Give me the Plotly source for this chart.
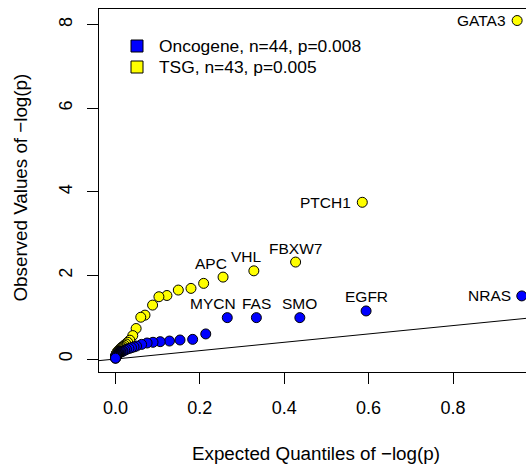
import plotly.graph_objects as go

# ---------------- data ----------------
onc_name = "Oncogene, n=44, p=0.008"
tsg_name = "TSG, n=43, p=0.005"

onc_expected = [0.963, 0.594, 0.437, 0.334, 0.265, 0.214, 0.183, 0.153, 0.128, 0.106,
                0.089, 0.075, 0.062, 0.050, 0.044, 0.038, 0.032, 0.026, 0.022, 0.018,
                0.016, 0.013, 0.011, 0.009, 0.008, 0.007, 0.006, 0.005, 0.0045, 0.004,
                0.0035, 0.003, 0.0027, 0.0024, 0.0021, 0.0018, 0.0015, 0.0012, 0.001, 0.0008,
                0.0006, 0.0004, 0.0002, 0.0001]
onc_observed = [1.51, 1.15, 0.99, 0.99, 0.99, 0.60, 0.47, 0.455, 0.43, 0.415,
                0.40, 0.383, 0.35, 0.31, 0.29, 0.27, 0.25, 0.23, 0.21, 0.19,
                0.18, 0.17, 0.16, 0.15, 0.14, 0.13, 0.12, 0.11, 0.10, 0.095,
                0.09, 0.085, 0.08, 0.075, 0.07, 0.065, 0.06, 0.055, 0.05, 0.045,
                0.04, 0.035, 0.03, 0.02]

tsg_expected = [0.952, 0.585, 0.427, 0.328, 0.255, 0.209, 0.179, 0.149, 0.122, 0.103,
                0.088, 0.070, 0.060, 0.049, 0.041, 0.034, 0.029, 0.025, 0.021, 0.018,
                0.015, 0.013, 0.011, 0.0095, 0.008, 0.007, 0.006, 0.005, 0.0043, 0.0037,
                0.0031, 0.0026, 0.0022, 0.0018, 0.0015, 0.0012, 0.001, 0.0008, 0.0006, 0.0004,
                0.0003, 0.0002, 0.0001]
tsg_observed = [8.10, 3.75, 2.32, 2.11, 1.96, 1.81, 1.69, 1.65, 1.52, 1.49,
                1.29, 1.05, 1.00, 0.73, 0.56, 0.45, 0.40, 0.36, 0.33, 0.30,
                0.28, 0.26, 0.24, 0.22, 0.20, 0.19, 0.18, 0.17, 0.16, 0.15,
                0.14, 0.13, 0.12, 0.11, 0.10, 0.09, 0.08, 0.07, 0.06, 0.05,
                0.04, 0.03, 0.02]

# gene labels for the first points of each series
onc_labels = ["NRAS", "EGFR", "SMO", "FAS", "MYCN"]
tsg_labels = ["GATA3", "PTCH1", "FBXW7", "VHL", "APC"]

x_ticks = [0.0, 0.2, 0.4, 0.6, 0.8]
y_ticks = [0, 2, 4, 6, 8]

# ---------------- styling ----------------
BLUE = "#0000FF"
YELLOW = "#FFFF00"
FONT = "Liberation Sans, Arial, sans-serif"
TICK_SIZE = 18
TITLE_SIZE = 18.8
LEGEND_SIZE = 17.4
LABEL_SIZE = 15.5

# label placement (pixel offsets): left-of-point or above
label_style = {
    "GATA3": ("left", 0), "PTCH1": ("left", 0), "NRAS": ("left", 0),
    "FBXW7": ("above", 0), "VHL": ("above", -7), "APC": ("above", -12),
    "EGFR": ("above", 0), "SMO": ("above", 0), "FAS": ("above", 0),
    "MYCN": ("above", -14),
}

x_range = [-0.039, 0.973]
y_range = [-0.311, 8.376]

fig = go.Figure()

# y = x reference line (spans the axis range)
fig.add_trace(go.Scatter(x=x_range, y=x_range, mode="lines",
                         line=dict(color="black", width=1), showlegend=False,
                         hoverinfo="skip"))

marker_line = dict(color="black", width=1)
fig.add_trace(go.Scatter(x=tsg_expected, y=tsg_observed, mode="markers",
                         marker=dict(color=YELLOW, size=10, line=marker_line),
                         cliponaxis=False, showlegend=False, name=tsg_name))
fig.add_trace(go.Scatter(x=onc_expected, y=onc_observed, mode="markers",
                         marker=dict(color=BLUE, size=10, line=marker_line),
                         cliponaxis=False, showlegend=False, name=onc_name))

annotations = []
for names, xs, ys in [(tsg_labels, tsg_expected, tsg_observed),
                      (onc_labels, onc_expected, onc_observed)]:
    for i, nm in enumerate(names):
        mode, dx = label_style[nm]
        if mode == "left":
            annotations.append(dict(x=xs[i], y=ys[i], xref="x", yref="y", text=nm,
                                    showarrow=False, xanchor="right", yanchor="middle",
                                    xshift=-9,
                                    font=dict(size=LABEL_SIZE, color="black", family=FONT)))
        else:
            annotations.append(dict(x=xs[i], y=ys[i], xref="x", yref="y", text=nm,
                                    showarrow=False, xanchor="center", yanchor="middle",
                                    xshift=dx, yshift=14,
                                    font=dict(size=LABEL_SIZE, color="black", family=FONT)))

# manual legend
shapes = []
for k, (nm, col) in enumerate([(onc_name, BLUE), (tsg_name, YELLOW)]):
    cy = -37 - 21 * k
    shapes.append(dict(type="rect", xref="paper", yref="paper",
                       xsizemode="pixel", ysizemode="pixel",
                       xanchor=0, yanchor=1, x0=32, x1=44, y0=cy - 6, y1=cy + 6,
                       fillcolor=col, line=dict(color="black", width=1)))
    annotations.append(dict(x=0, y=1, xref="paper", yref="paper", text=nm,
                            showarrow=False, xanchor="left", yanchor="middle",
                            xshift=58, yshift=cy,
                            font=dict(size=LEGEND_SIZE, color="black", family=FONT)))

# axis titles
annotations.append(dict(x=0, y=0, xref="paper", yref="paper",
                        text="Expected Quantiles of \u2212log(p)", showarrow=False,
                        xanchor="center", yanchor="middle", xshift=217, yshift=-81,
                        font=dict(size=TITLE_SIZE, color="black", family=FONT)))
annotations.append(dict(x=0, y=0.5, xref="paper", yref="paper",
                        text="Observed Values of \u2212log(p)", showarrow=False,
                        xanchor="center", yanchor="middle", xshift=-79, yshift=3,
                        textangle=-90,
                        font=dict(size=TITLE_SIZE, color="black", family=FONT)))

fig.update_layout(
    width=526, height=466,
    margin=dict(l=99, r=0, t=9, b=94, pad=0),
    paper_bgcolor="white", plot_bgcolor="white",
    font=dict(family=FONT, size=17, color="black"),
    showlegend=False,
    annotations=annotations,
    shapes=shapes,
)
fig.update_xaxes(range=x_range, tickvals=x_ticks, ticktext=[f"{v:.1f}" for v in x_ticks],
                 ticks="outside", ticklen=11, tickcolor="black", tickwidth=1,
                 showline=True, linecolor="black", linewidth=1, mirror=True,
                 showgrid=False, zeroline=False, ticklabelstandoff=8,
                 tickfont=dict(size=TICK_SIZE, color="black", family=FONT))
fig.update_yaxes(range=y_range, tickvals=y_ticks, ticktext=[str(v) for v in y_ticks],
                 ticks="outside", ticklen=11, tickcolor="black", tickwidth=1,
                 showline=True, linecolor="black", linewidth=1, mirror=False,
                 showgrid=False, zeroline=False, tickangle=-90, ticklabelstandoff=8,
                 tickfont=dict(size=TICK_SIZE, color="black", family=FONT))

fig.write_html("out.html")
